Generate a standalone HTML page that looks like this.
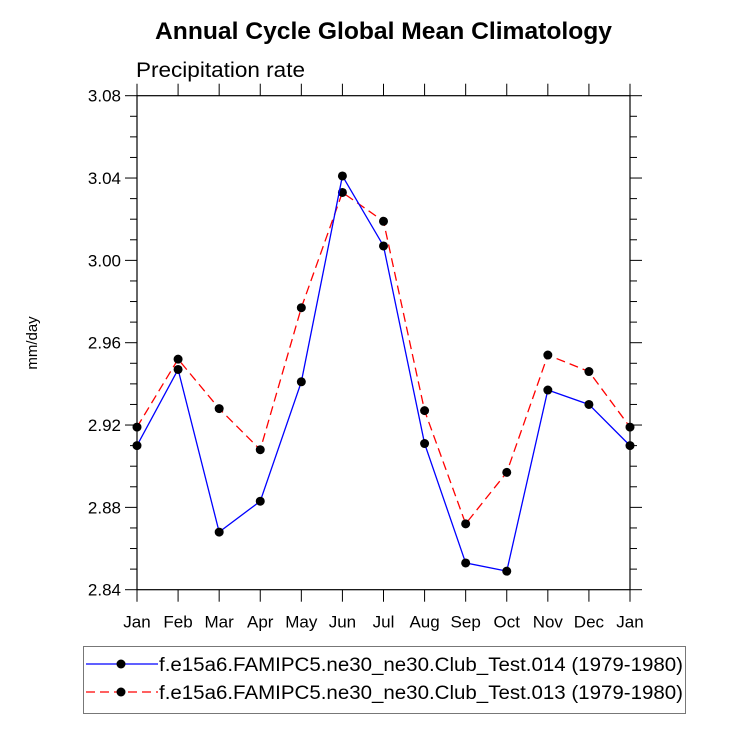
<!DOCTYPE html>
<html><head><meta charset="utf-8"><style>
body{margin:0;background:#fff}
svg text{font-family:"Liberation Sans",Arial,sans-serif;fill:#000}
</style></head><body>
<svg width="732" height="732" viewBox="0 0 732 732">
<text x="155" y="39" font-size="24" font-weight="bold" textLength="457" lengthAdjust="spacingAndGlyphs">Annual Cycle Global Mean Climatology</text>
<text x="136" y="77" font-size="21" textLength="169" lengthAdjust="spacingAndGlyphs">Precipitation rate</text>
<text transform="translate(37,343) rotate(-90)" font-size="15" text-anchor="middle">mm/day</text>
<g id="axes"></g>
<g id="series"></g>
<g>
<rect x="83.5" y="646.5" width="602" height="67" fill="none" stroke="#777" stroke-width="1"/>
<g>
<line x1="86" y1="664" x2="158" y2="664" stroke="#0000ff" stroke-width="1.3"/>
<circle cx="121" cy="664" r="4.5" fill="#000"/>
<text x="159" y="671" font-size="19" textLength="524" lengthAdjust="spacingAndGlyphs">f.e15a6.FAMIPC5.ne30_ne30.Club_Test.014 (1979-1980)</text>
</g>
<g>
<line x1="86" y1="692" x2="158" y2="692" stroke="#ff0000" stroke-width="1.3" stroke-dasharray="9,5"/>
<circle cx="121" cy="692" r="4.5" fill="#000"/>
<text x="159" y="699" font-size="19" textLength="524" lengthAdjust="spacingAndGlyphs">f.e15a6.FAMIPC5.ne30_ne30.Club_Test.013 (1979-1980)</text>
</g>
</g>
</svg>
<script>
const months = ["Jan","Feb","Mar","Apr","May","Jun","Jul","Aug","Sep","Oct","Nov","Dec","Jan"];
const test014 = [2.910,2.947,2.868,2.883,2.941,3.041,3.007,2.911,2.853,2.849,2.937,2.930,2.910];
const test013 = [2.919,2.952,2.928,2.908,2.977,3.033,3.019,2.927,2.872,2.897,2.954,2.946,2.919];
const yTicks = ["2.84","2.88","2.92","2.96","3.00","3.04","3.08"];
const X0=137,X1=630,Y0=589.7,Y1=95.7,YMIN=2.84,YMAX=3.08;
const xs=i=>X0+(X1-X0)*i/(months.length-1);
const ys=v=>Y0-(v-YMIN)/(YMAX-YMIN)*(Y0-Y1);
const NS="http://www.w3.org/2000/svg";
function mk(t,a,p){const e=document.createElementNS(NS,t);for(const k in a)e.setAttribute(k,a[k]);p.appendChild(e);return e;}
const ax=document.getElementById('axes');
const fr=mk('rect',{x:X0,y:Y1,width:X1-X0,height:Y0-Y1,fill:'none',stroke:'#000','stroke-width':1.2},ax);


months.forEach((m,i)=>{const x=xs(i);
mk('line',{x1:x,y1:Y0,x2:x,y2:Y0+12,stroke:'#000'},ax);
mk('line',{x1:x,y1:Y1,x2:x,y2:Y1-12,stroke:'#000'},ax);
const t=mk('text',{x:x,y:Y0+38,'font-size':17,'text-anchor':'middle'},ax);t.textContent=m;

});
yTicks.forEach((lab,i)=>{const v=parseFloat(lab),y=ys(v);
mk('line',{x1:X0,y1:y,x2:X0-12,y2:y,stroke:'#000'},ax);
mk('line',{x1:X1,y1:y,x2:X1+12,y2:y,stroke:'#000'},ax);
const t=mk('text',{x:X0-16,y:y+6,'font-size':17,'text-anchor':'end'},ax);t.textContent=lab;


if(i<yTicks.length-1){for(let k=1;k<4;k++){const yy=ys(v+0.01*k);
mk('line',{x1:X0,y1:yy,x2:X0-7,y2:yy,stroke:'#000'},ax);
mk('line',{x1:X1,y1:yy,x2:X1+7,y2:yy,stroke:'#000'},ax);}}});
const sg=document.getElementById('series');
function draw(data,color,dash,name){
const pts=data.map((v,i)=>xs(i)+','+ys(v)).join(' ');
const pl=mk('polyline',{points:pts,fill:'none',stroke:color,'stroke-width':1.3,'stroke-dasharray':dash},sg);


data.forEach((v,i)=>{const c=mk('circle',{cx:xs(i),cy:ys(v),r:4.5,fill:'#000'},sg);

});}
draw(test013,'#ff0000','9,5','test013');
draw(test014,'#0000ff','none','test014');
</script>
</body></html>
